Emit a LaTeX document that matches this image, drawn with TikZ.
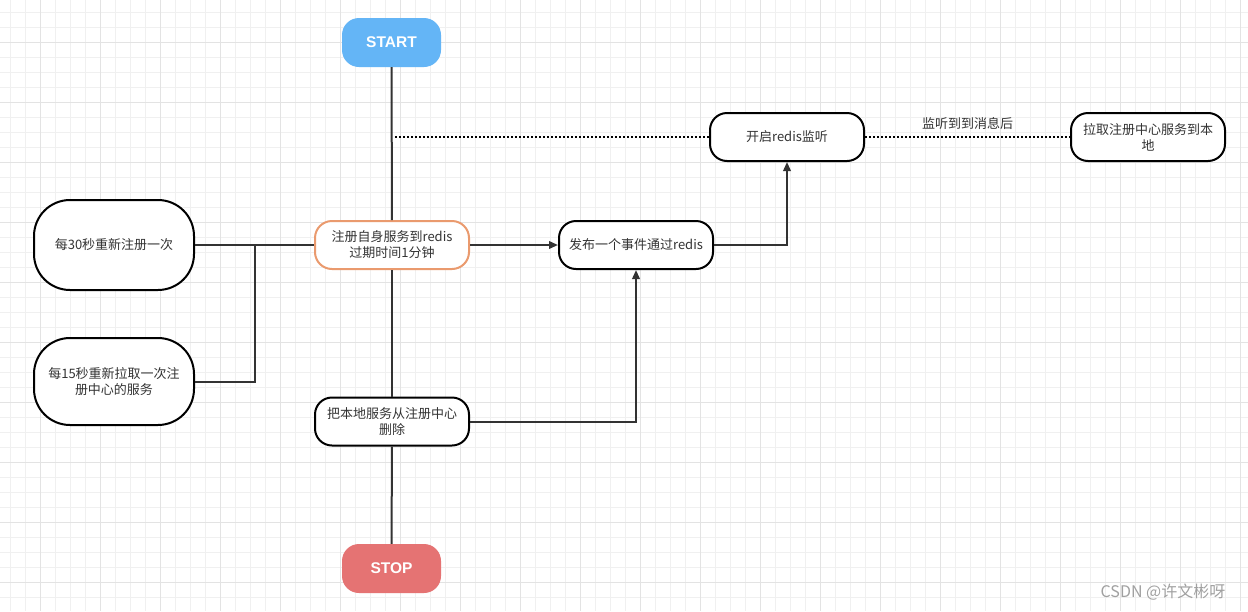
\documentclass[tikz,border=0pt]{standalone}
\usepackage{fontspec}
\setmainfont{Noto Sans CJK SC}
\newfontfamily\latbold{Liberation Sans}
\usetikzlibrary{arrows.meta}
\definecolor{startblue}{HTML}{64B5F6}
\definecolor{stopred}{HTML}{E57373}
\definecolor{orangeb}{HTML}{EA9A6E}
\definecolor{linec}{HTML}{333333}
\definecolor{txt}{HTML}{333333}
\definecolor{gridminor}{HTML}{F0F0F0}
\definecolor{gridmajor}{HTML}{E3E3E3}
\definecolor{wmgray}{HTML}{A0A0A0}
\begin{document}
\begin{tikzpicture}[x=1pt,y=-1pt,
  box/.style={draw=black, line width=2pt, fill=white, rounded corners=17pt,
    minimum width=154pt, minimum height=48pt, text=txt, align=center,
    inner sep=0pt, font=\fontsize{13}{16}\selectfont},
  tallbox/.style={box, rounded corners=36pt, minimum width=160pt},
  term/.style={draw=none, rounded corners=17pt, minimum width=99pt,
    minimum height=49pt, text=white, inner sep=0pt,
    font=\latbold\bfseries\fontsize{15.5}{17}\selectfont},
  conn/.style={draw=linec, line width=2pt},
  arr/.style={conn, -{Triangle[length=9pt,width=7.5pt]}},
  dotl/.style={draw=black, line width=2pt, dash pattern=on 2pt off 2pt},
]
\useasboundingbox (0,0) rectangle (1248,611);
\fill[white] (0,0) rectangle (1248,611);
% grid
\foreach \x in {10,25,...,1240} \draw[gridminor, line width=0.8pt] (\x,0) -- (\x,611);
\foreach \y in {12,27,...,597} \draw[gridminor, line width=0.8pt] (0,\y) -- (1248,\y);
\foreach \x in {40,100,...,1240} \draw[gridmajor, line width=0.8pt] (\x,0) -- (\x,611);
\foreach \y in {42,102,...,582} \draw[gridmajor, line width=0.8pt] (0,\y) -- (1248,\y);

% nodes
\node[term, fill=startblue] (start) at (391.5,42.5) {START};
\node[term, fill=stopred] (stop) at (391.5,568.5) {STOP};
\node[box, draw=orangeb] (reg) at (392,245) {注册自身服务到redis\\过期时间1分钟};
\node[box] (pub) at (636,245) {发布一个事件通过redis};
\node[box] (listen) at (787,137) {开启redis监听};
\node[box] (pull) at (1148,137) {拉取注册中心服务到本\\地};
\node[box] (del) at (392,421.5) {把本地服务从注册中心\\删除};
\node[tallbox, minimum height=90pt] (s30) at (114,245) {每30秒重新注册一次};
\node[tallbox, minimum height=87pt] (s15) at (114,381.5) {每15秒重新拉取一次注\\册中心的服务};

% connectors
\draw[conn] (start) -- (reg);
\draw[conn] (reg) -- (del);
\draw[conn] (del) -- (stop);
\draw[conn] (s30.east) -- (reg.west);
\coordinate (join) at (255,245);
\draw[conn] (s15.east) -| (join);
\draw[arr] (reg.east) -- (pub.west);
\draw[arr] (pub.east) -| (listen.south);
\draw[arr] (del.east) -| (pub.south);
\coordinate (d0) at (395,137);
\draw[dotl] (d0) -- (listen.west);
\draw[dotl] (listen.east) -- node[above=3pt, text=txt, font=\fontsize{13}{15}\selectfont] (lbl) {监听到到消息后} (pull.west);

% watermark
\node[text=wmgray, font=\fontsize{16}{18}\selectfont, inner sep=0pt] (wm) at (1163,592) {CSDN @许文彬呀};
\end{tikzpicture}
\end{document}
